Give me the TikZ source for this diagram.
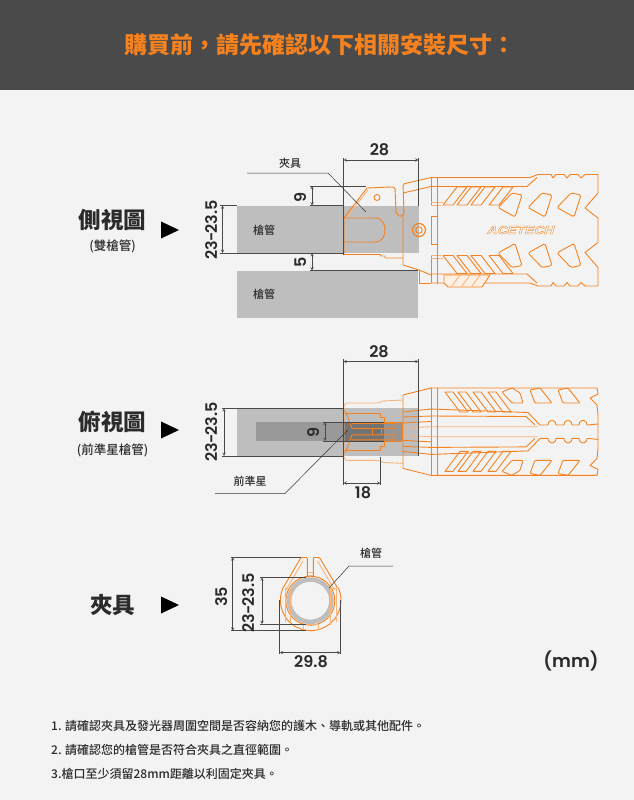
\documentclass[tikz,border=0pt]{standalone}
\usepackage{fontspec}
\setmainfont{Noto Sans CJK TC}
\newfontfamily\medfont{Noto Sans CJK TC Medium}
\newfontfamily\numfont{Poppins SemiBold}
\newfontfamily\logofont[FakeSlant=0.3,FakeStretch=1.2]{Liberation Sans}
\usetikzlibrary{arrows,calc,positioning}
\definecolor{bgcol}{HTML}{F3F3F3}
\definecolor{headcol}{HTML}{4A4A4A}
\definecolor{orgcol}{HTML}{F5821F}
\definecolor{palecol}{HTML}{F9B47C}
\definecolor{barrelcol}{HTML}{BEBEBE}
\definecolor{dimcol}{HTML}{4A4A4A}
\definecolor{txtcol}{HTML}{2B2B2B}
\newcommand{\rangetext}{23\kern-1.2pt-\kern-1.2pt23.5}
\tikzset{
  org/.style={draw=orgcol,line width=0.9pt,line join=round},
  pale/.style={draw=palecol,line width=0.9pt,line join=round},
  extline/.style={draw=dimcol,line width=0.5pt},
  dimline/.style={draw=dimcol,line width=0.5pt,{stealth}-{stealth}},
  leader/.style={draw=black!80,line width=0.5pt},
  numlabel/.style={font=\numfont\fontsize{16}{16}\selectfont,text=txtcol,inner sep=0pt},
  smalllabel/.style={font=\medfont\fontsize{11}{12}\selectfont,text=txtcol,inner sep=0pt},
  viewlabel/.style={font=\bfseries\fontsize{22.5}{24}\selectfont,text=txtcol,inner sep=0pt},
  sublabel/.style={font=\medfont\fontsize{12.5}{13}\selectfont,text=txtcol,inner sep=0pt},
  notelabel/.style={font=\medfont\fontsize{12}{14}\selectfont,text=txtcol,inner sep=0pt,anchor=west},
  marker/.style={fill=black,draw=none}
}
% one half of the muzzle device, drawn twice
\newcommand{\sidehalf}{
  \draw[org] (431,177.5) -- (530,177.5) -- (538,174.5) -- (551,174.5) -- (553,178) -- (556,174.5)
    -- (564,174.5) -- (567,178) -- (570,174.5) -- (578,174.5) -- (581,178) -- (585,174.5)
    -- (598,174.5) -- (598,193) -- (585,208) -- (598,218) -- (598,230.25);
  \draw[org] (431,186.5) -- (527,186.5) -- (537,177.5);
  \draw[org] (431,177.5) -- (431,205.5);
  \draw[pale] (431,202.5) -- (443,202.5) (431,205.5) -- (441,205.5);
  \draw[org] (431,216) -- (437,216);
  \foreach \x in {443,457,471,489}
    \draw[org] (\x,205) -- (\x+14,187) -- (\x+24,187) -- (\x+10,205) -- cycle;
  \foreach \x in {0,30,59}
    \draw[org,rounded corners=1.5pt] (498+\x,207.5) -- (512+\x,193) -- (522+\x,195) -- (515+\x,217) -- cycle;
}
\newcommand{\tophalf}{
  \draw[org] (403,431.7) -- (403,395) -- (431,388) -- (597,388) -- (598,394) -- (590,398)
    -- (597,405) -- (598,415) -- (598,431.7);
  \draw[org] (431,388) -- (431,431.7);
  \draw[org] (403,412) -- (431,409) -- (528,412.5) -- (540,425);
  \draw[org] (403,417) -- (431,416) -- (526,416.5) -- (535,425);
  \draw[org] (403,423) -- (431,421.5);
  \draw[pale] (403,428) -- (431,426.7) -- (538,426.7);
  \draw[org] (344,410) .. controls (348,415) and (350,424) .. (352,428.5) -- (395,428.5) -- (395,423.5) -- (352,423.5);
  \draw[org] (345,413) -- (380.5,413) -- (380.5,417) -- (384,417) -- (384,422) -- (402,422);
  \draw[org] (402,422) -- (402,431.7);
  \draw[org] (372,428.5) -- (372,431.7) (381,428.5) -- (381,431.7);
  \draw[pale] (344,431.7) -- (344,406) -- (346,403) -- (378,403) -- (383,401) -- (403,400);
  \foreach \x in {445,458,473,488}
    \draw[org] (\x,392) -- (\x+8,392) -- (\x+23,412) -- (\x+15,412) -- cycle;
  \draw[org,rounded corners=1pt] (502,392) -- (512,388) -- (520,393) -- (523,403) -- (512,403) -- cycle;
  \foreach \x in {0,28}
    \draw[org,rounded corners=1pt] (530+\x,390) -- (540+\x,388) -- (552+\x,403) -- (535+\x,403) -- cycle;
  \foreach \x in {552,568,583}
    \draw[org,rounded corners=2pt] (\x-4,425) -- (\x-3,420.5) -- (\x+3,420.5) -- (\x+4,425);
  \draw[org] (540,425) -- (548,425) (556,425) -- (564,425) (572,425) -- (579,425) (587,425) -- (598,424);
}
\begin{document}
\begin{tikzpicture}[x=1pt,y=-1pt]
  \useasboundingbox (0,0) rectangle (634,800);
  \fill[bgcol] (0,0) rectangle (634,800);
  \fill[headcol] (0,0) rectangle (634,90);
  \node (title) at (319.5,45) [font=\bfseries\fontsize{23}{24}\selectfont,text=orgcol,inner sep=0pt] {購買前，請先確認以下相關安裝尺寸：};

  % left column
  \node (sideview) at (112.5,220) [viewlabel] {側視圖};
  \node (sidesub) at (112.5,246) [sublabel] {(雙槍管)};
  \node (topview) at (112.5,422) [viewlabel] {俯視圖};
  \node (topsub) at (112.5,450) [sublabel] {(前準星槍管)};
  \node (clampview) at (112.5,605) [viewlabel] {夾具};
  \foreach \y in {230,430,605}
    \fill[marker] (161,\y-8.5) -- (179,\y) -- (161,\y+8.5) -- cycle;

  % side view
  \fill[barrelcol] (237,205.5) rectangle (418.5,253);
  \fill[barrelcol] (237,270.5) rectangle (418,318);
  \node (barrela) at (264,230) [smalllabel] {槍管};
  \node (barrelb) at (264,294) [smalllabel] {槍管};
  \sidehalf
  \begin{scope}[shift={(0,460.5)},yscale=-1]
    \sidehalf
  \end{scope}
  \draw[org,line width=1pt] (437.3,177) -- (437.3,283.5);
  \draw[org] (431,216) -- (431,244);
  \draw[org] (344,218) -- (367,188) -- (391,187) [rounded corners=1.5pt] -- (395,187.5) -- (396,213) -- (400,217) -- (404,214) -- (403,184) -- (431,177.5);
  \draw[org] (403,193) -- (431,186.5);
  \draw[pale] (346,218) -- (368,190);
  \draw[org] (344,218) -- (375,218) .. controls (382,218) and (385,224) .. (385,230) .. controls (385,236) and (382,242) .. (375,242) -- (344,242);
  \draw[org] (344,218) -- (344,254.5) -- (380,254.5) -- (381,256) -- (385,256) -- (385,258) -- (403,258);
  \draw[org] (403,214) -- (403,265) -- (419,270) -- (431,275);
  \draw[org] (419,270) -- (419,283) -- (431,283);
  \draw[org] (377,197.5) circle (3);
  \draw[org,line width=1.2pt] (419,230) circle (6.5);
  \draw[org] (419,230) circle (3.3);
  \draw[org,fill=orgcol!12] (444,275) -- (490,275) -- (482,287) -- (448,287) -- (444,283) -- cycle;
  \foreach \x in {452,462,472}
    \draw[pale] (\x,286) -- (\x+8,275);
  \node (logo) at (520,230) [inner sep=0pt,font=\logofont\bfseries\fontsize{11.5}{12}\selectfont,text=orgcol] {\special{pdf:code 1 Tr 0.35 w}ACETECH\special{pdf:code 0 Tr}};
  \draw[extline] (343.5,158) -- (343.5,255) (418.5,158) -- (418.5,206);
  \draw[extline] (310,186) -- (366,186) (310,205.5) -- (344,205.5);
  \draw[extline] (220,205.5) -- (237,205.5) (220,253) -- (344,253) (310,270.5) -- (418,270.5);
  \draw[dimline] (343.5,160) -- (418.5,160);
  \draw[dimline] (312,186) -- (312,205.5);
  \draw[dimline] (312,253) -- (312,270.5);
  \draw[dimline] (222.5,205.5) -- (222.5,253);
  \node (sideB) at (379.5,149.5) [numlabel] {28};
  \node (sideC) at (301,197) [numlabel,rotate=90] {9};
  \node (sideD) at (301,262) [numlabel,rotate=90] {5};
  \node (sideE) at (212,230) [numlabel,rotate=90] {\rangetext};
  \node (clampA) at (290,163) [smalllabel] {夾具};
  \coordinate (clampAa) at (247,173);
  \coordinate (clampAb) at (328,173);
  \coordinate (clampAc) at (366,212);
  \draw[leader] (clampAa) -- (clampAb) -- (clampAc);

  % top view
  \fill[barrelcol] (237,408.3) rectangle (418.5,456);
  \fill[black!40] (256,422) rectangle (344,441);
  \fill[black!55] (344,422) rectangle (384,441);
  \fill[black!42] (384,422) rectangle (402,441);
  \tophalf
  \begin{scope}[shift={(0,863.4)},yscale=-1]
    \tophalf
  \end{scope}
  \draw[org,line width=1pt] (437.3,388) -- (437.3,475);
  \draw[extline] (343.5,359) -- (343.5,485) (418.5,359) -- (418.5,456);
  \draw[extline] (380.5,457) -- (380.5,485);
  \draw[extline] (222,408.3) -- (344,408.3) (222,456) -- (344,456);
  \draw[extline] (323,422) -- (384,422) (323,441) -- (384,441);
  \draw[dimline] (343.5,361.5) -- (418.5,361.5);
  \draw[dimline] (343.5,483) -- (380.5,483);
  \draw[dimline] (325,422) -- (325,441);
  \draw[dimline] (224,408.3) -- (224,456);
  \node (topB) at (379,352) [numlabel] {28};
  \node (topC) at (363,493) [numlabel] {18};
  \node (topD) at (314,432) [numlabel,rotate=90] {9};
  \node (topE) at (212,432) [numlabel,rotate=90] {\rangetext};
  \node (sightA) at (250,481) [smalllabel] {前準星};
  \coordinate (sightAa) at (215,493.5);
  \coordinate (sightAb) at (285,493.5);
  \coordinate (sightAc) at (348,430);
  \draw[leader] (sightAa) -- (sightAb) -- (sightAc);

  % clamp view
  \draw[barrelcol,line width=4.5pt] (310.3,600.7) circle (21.2);
  \draw[org] (283,588) arc (204:-24:30.3);
  \draw[org,rounded corners=1pt] (283,588) -- (301,557.5) -- (307.3,557.5) -- (307.3,577);
  \draw[org,rounded corners=1pt] (337.6,588) -- (319.5,557.5) -- (313.3,557.5) -- (313.3,577);
  \draw[pale] (286,590) -- (303,561) (334.6,590) -- (317.5,561);
  \draw[org] (310.3,600.7) circle (24.5);
  \draw[pale] (308,572) -- (313,572) (308,575) -- (313,575);
  \draw[pale] (285,588) -- (285,622) (290.5,588) -- (290.5,625) (285,588) -- (290.5,588);
  \draw[pale] (330,588) -- (330,625) (336.5,588) -- (336.5,622) (330,588) -- (336.5,588);
  \draw[pale] (303,624) -- (303,630) (318,624) -- (318,630) (303,624) -- (318,624);
  \draw[extline] (231,557.3) -- (301,557.3) (231,630.7) -- (306,630.7);
  \draw[extline] (260,577.3) -- (306,577.3) (260,624) -- (306,624);
  \draw[extline] (279.7,600) -- (279.7,654) (340.5,600) -- (340.5,654);
  \draw[dimline] (232.7,557.3) -- (232.7,630.7);
  \draw[dimline] (262,577.3) -- (262,624);
  \draw[dimline] (279.7,652.7) -- (340.5,652.7);
  \node (clampB) at (222,597) [numlabel,rotate=90] {35};
  \node (clampC) at (249,603) [numlabel,rotate=90] {\rangetext};
  \node (clampD) at (311,661.5) [numlabel] {29.8};
  \node (barrelc) at (371,553.5) [smalllabel] {槍管};
  \coordinate (barrelca) at (393,566);
  \coordinate (barrelcb) at (349,566);
  \coordinate (barrelcc) at (329,588);
  \draw[leader] (barrelca) -- (barrelcb) -- (barrelcc);
  \node (unit) at (571,660.5) [numlabel,font=\numfont\fontsize{18}{20}\selectfont] {(mm)};

  % notes
  \node (notea) at (51,725.5) [notelabel] {1. 請確認夾具及發光器周圍空間是否容納您的護木、導軌或其他配件。};
  \node (noteb) at (51,749.5) [notelabel] {2. 請確認您的槍管是否符合夾具之直徑範圍。};
  \node (notec) at (51,773.5) [notelabel] {3.槍口至少須留28mm距離以利固定夾具。};
\end{tikzpicture}
\end{document}
